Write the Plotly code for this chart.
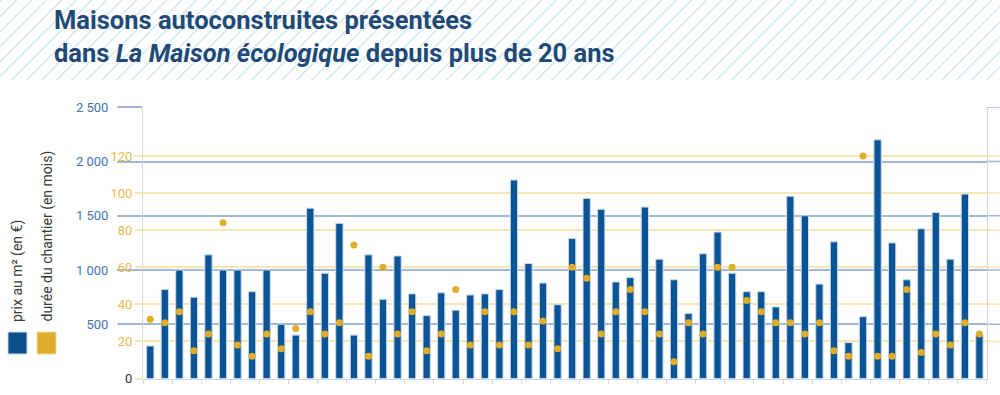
import plotly.graph_objects as go

# ---- data ----
maisons = [f"Maison {i}" for i in range(1, 59)]
prix_m2 = [300, 820, 1000, 750, 1140, 1000, 1000, 800, 1000, 500,
           400, 1570, 970, 1430, 400, 1140, 730, 1130, 780, 580,
           790, 630, 770, 780, 820, 1830, 1060, 880, 680, 1290,
           1660, 1560, 890, 930, 1580, 1100, 910, 600, 1150, 1350,
           970, 800, 800, 660, 1680, 1500, 870, 1260, 330, 570,
           2200, 1250, 910, 1380, 1530, 1100, 1700, 400]
duree_mois = [32, 30, 36, 15, 24, 84, 18, 12, 24, 16,
              27, 36, 24, 30, 72, 12, 60, 24, 36, 15,
              24, 48, 18, 36, 18, 36, 18, 31, 16, 60,
              54, 24, 36, 48, 36, 24, 9, 30, 24, 60,
              60, 42, 36, 30, 30, 24, 30, 15, 12, 120,
              12, 12, 48, 14, 24, 18, 30, 24]
prix_ticks = [500, 1000, 1500, 2000, 2500]
duree_ticks = [0, 20, 40, 60, 80, 100, 120]
title_text = ("Maisons autoconstruites présentées<br>"
              "dans <i>La Maison écologique</i> depuis plus de 20 ans")
legend_labels = ["prix au m² (en €)", "durée du chantier (en mois)"]

# ---- style ----
W, H = 1000, 395
BLUE = "#0b5596"
GOLD = "#e0ad25"
BLUE_TXT = "#4572b8"
GOLD_TXT = "#e8b94c"
BLUE_GRID = "#a3b7d6"
GOLD_GRID = "#f7e6b4"
NAVY = "#1f4a78"
FONT = "Roboto"

x_left, x_right = 143 / W, 986.7 / W
y_bot, y_top = 1 - 378.5 / H, 1 - 107.3 / H
prix_max = 2500
duree_max = prix_max * 0.1085 / 1.855

fig = go.Figure()
fig.add_trace(go.Bar(x=maisons, y=prix_m2, width=0.5,
                     marker=dict(color=BLUE, line=dict(color="#c9d8ea", width=1)),
                     name=legend_labels[0], showlegend=False))
fig.add_trace(go.Scatter(x=maisons, y=duree_mois, yaxis="y2", mode="markers",
                         marker=dict(color=GOLD, size=7, symbol="circle"),
                         name=legend_labels[1], showlegend=False))

shapes = []
# hatch background behind title
c = 1.7
while c < W + 80:
    y0 = max(0, c - W)
    y1 = min(80, c)
    if y0 < y1:
        shapes.append(dict(type="line", xref="paper", yref="paper",
                           x0=(c - y0) / W, y0=1 - y0 / H, x1=(c - y1) / W, y1=1 - y1 / H,
                           line=dict(color="#d3ebf5", width=1.6), layer="below"))
    c += 15
# gridline extensions to the right edge
for v in prix_ticks:
    shapes.append(dict(type="line", xref="paper", yref="y", x0=x_right, x1=1.0, y0=v, y1=v,
                       line=dict(color=BLUE_GRID, width=1.5), layer="below"))
for v in duree_ticks[1:]:
    shapes.append(dict(type="line", xref="paper", yref="y2", x0=x_right, x1=1.0, y0=v, y1=v,
                       line=dict(color=GOLD_GRID, width=1.5), layer="below"))
# legend squares
shapes.append(dict(type="rect", xref="paper", yref="paper", x0=8 / W, x1=27 / W,
                   y0=1 - 354 / H, y1=1 - 332 / H, fillcolor="#0d4f8c",
                   line=dict(color="#c9d8ea", width=1)))
shapes.append(dict(type="rect", xref="paper", yref="paper", x0=37 / W, x1=56 / W,
                   y0=1 - 354 / H, y1=1 - 332 / H, fillcolor="#ddad2b",
                   line=dict(color="#f2dfa0", width=1)))

annotations = [
    dict(text=legend_labels[0], textangle=-90, xref="paper", yref="paper",
         x=17 / W, y=1 - 324 / H, xanchor="center", yanchor="bottom", showarrow=False,
         font=dict(family=FONT, size=14, color="#3a3a3a")),
    dict(text=legend_labels[1], textangle=-90, xref="paper", yref="paper",
         x=47 / W, y=1 - 324 / H, xanchor="center", yanchor="bottom", showarrow=False,
         font=dict(family=FONT, size=14, color="#3a3a3a")),
    dict(text="<b>" + title_text + "</b>", xref="paper", yref="paper", align="left",
         x=52 / W, y=1 - 36 / H, xanchor="left", yanchor="middle", showarrow=False,
         font=dict(family=FONT, size=25.5, color=NAVY)),
]

fig.update_layout(
    width=W, height=H,
    margin=dict(l=0, r=0, t=0, b=0, autoexpand=False),
    paper_bgcolor="white", plot_bgcolor="white",
    separators=", ",
    bargap=0.5,
    hovermode=False,
    xaxis=dict(domain=[x_left, x_right], range=[-0.5, len(maisons) - 0.5],
               showticklabels=False, showgrid=False, zeroline=False, automargin=False,
               showline=True, linecolor="#d6d6d6", linewidth=1,
               ticks="outside", tickson="boundaries", ticklen=4, tickcolor="#d6d6d6"),
    yaxis=dict(domain=[y_bot, y_top], range=[0, prix_max], automargin=False,
               tickvals=prix_ticks, tickformat=",d", ticklabelstandoff=6,
               tickfont=dict(family=FONT, size=13, color=BLUE_TXT),
               ticks="outside", ticklen=25, tickcolor=BLUE_GRID, tickwidth=1.5,
               showgrid=True, gridcolor=BLUE_GRID, gridwidth=1.5, zeroline=False,
               showline=True, linecolor="#d6d6d6", linewidth=1, mirror=True),
    yaxis2=dict(overlaying="y", side="left", anchor="free", position=x_left,
                range=[0, duree_max], tickvals=duree_ticks, automargin=False,
                ticktext=['<span style="color:#333333">0</span>'] + [str(v) for v in duree_ticks[1:]],
                tickfont=dict(family=FONT, size=13, color=GOLD_TXT),
                ticks="outside", ticklen=8, tickcolor=GOLD_GRID, tickwidth=1.5,
                showgrid=True, gridcolor=GOLD_GRID, gridwidth=1.5, zeroline=False,
                showline=False),
    shapes=shapes,
    annotations=annotations,
)

fig.write_html("out.html", config={"displayModeBar": False},
               post_script="document.body.style.margin='0px';")
